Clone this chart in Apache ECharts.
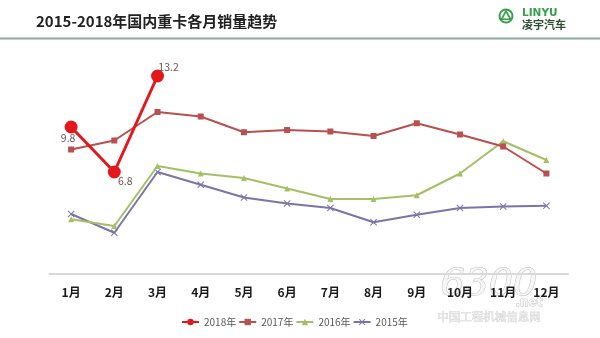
<!DOCTYPE html>
<html><head><meta charset="utf-8">
<script src="https://cdn.jsdelivr.net/npm/echarts@6/dist/echarts.min.js"></script>
<style>html,body{margin:0;padding:0;background:#fff}#c{width:600px;height:338px}</style>
</head><body><div id="c"></div>
<script>
const months = ['1月','2月','3月','4月','5月','6月','7月','8月','9月','10月','11月','12月'];
const seriesNames = ['2018年','2017年','2016年','2015年'];
const s2018 = [9.8, 6.8, 13.2];
const s2017 = [8.3, 8.9, 10.8, 10.5, 9.45, 9.6, 9.5, 9.2, 10.05, 9.3, 8.5, 6.7];
const s2016 = [3.65, 3.2, 7.2, 6.7, 6.4, 5.7, 5.0, 5.0, 5.25, 6.7, 8.85, 7.6];
const s2015 = [4.0, 2.75, 6.8, 5.95, 5.1, 4.7, 4.4, 3.45, 3.95, 4.4, 4.5, 4.55];

const font = '"Noto Sans CJK SC","Noto Sans",sans-serif';
const labelOffsets = [[-3, 11], [11, 9], [11, -9]];
const crossPath = 'path://M0,1L1,0L5,4L9,0L10,1L6,5L10,9L9,10L5,6L1,10L0,9L4,5Z';

const chart = echarts.init(document.getElementById('c'), null, {renderer: 'canvas'});
chart.setOption({
  backgroundColor: '#fff',
  animation: false,
  textStyle: {fontFamily: font},
  title: {
    text: '2015-2018年国内重卡各月销量趋势',
    left: 31, top: 9,
    textStyle: {fontSize: 15, fontWeight: 'bold', color: '#222', fontFamily: font}
  },
  graphic: [
    {type: 'line', z: 1, shape: {x1: 0, y1: 38.5, x2: 600, y2: 38.5}, style: {stroke: '#8fa8a0', lineWidth: 2}},
    {type: 'circle', z: 1, shape: {cx: 506, cy: 16, r: 6.5}, style: {fill: 'none', stroke: '#35a04a', lineWidth: 2}},
    {type: 'polygon', z: 1, shape: {points: [[506, 11], [510.5, 19.3], [501.5, 19.3]]}, style: {fill: 'none', stroke: '#35a04a', lineWidth: 1.6}},
    {type: 'text', z: 1, left: 522, top: 8, style: {text: 'LINYU', fill: '#35a04a', font: 'bold 10.5px "DejaVu Sans",sans-serif'}},
    {type: 'text', z: 1, left: 522, top: 19, style: {text: '凌宇汽车', fill: '#2c4f33', font: 'bold 11px "Noto Sans CJK SC",sans-serif'}},
    {type: 'text', z: 0, left: 440, top: 266, style: {text: '6300', fill: '#f6f6f6', stroke: '#bdbdbd', lineWidth: 1, font: 'italic 38px "DejaVu Serif",serif'}},
    {type: 'text', z: 0, left: 515, top: 296, style: {text: '.net', fill: '#f6f6f6', stroke: '#bdbdbd', lineWidth: 0.8, font: 'bold 12px "DejaVu Sans",sans-serif'}},
    {type: 'text', z: 0, left: 437, top: 311, style: {text: '中国工程机械信息网', fill: '#e9e9e9', stroke: '#c8c8c8', lineWidth: 0.5, font: '11.5px "Noto Sans CJK SC",sans-serif'}}
  ],
  legend: {
    data: seriesNames,
    left: 181, top: 317, padding: 0,
    itemWidth: 17, itemHeight: 8, itemGap: 2,
    textStyle: {fontSize: 10, color: '#595959', fontFamily: font}
  },
  grid: {left: 49.5, right: 32, top: 64, bottom: 64, containLabel: false},
  xAxis: {
    type: 'category',
    data: months,
    boundaryGap: true,
    axisLine: {lineStyle: {color: '#d9d9d9', width: 2}},
    axisTick: {show: false},
    axisLabel: {fontSize: 12, fontWeight: 'bold', color: '#1a1a1a', margin: 12, fontFamily: font}
  },
  yAxis: {
    type: 'value', min: 0, max: 14,
    show: false,
    splitLine: {show: false}
  },
  series: [
    {
      name: '2018年', type: 'line', z: 5,
      data: s2018.map((v, i) => ({value: v, label: {offset: labelOffsets[i]}})),
      symbol: 'circle', symbolSize: 13,
      lineStyle: {color: '#e3171c', width: 3},
      itemStyle: {color: '#e3171c'},
      label: {show: true, position: 'inside', color: '#6e5252', fontSize: 10.5, fontFamily: font}
    },
    {
      name: '2017年', type: 'line', z: 4,
      data: s2017,
      symbol: 'rect', symbolSize: 6,
      lineStyle: {color: '#b8504f', width: 2},
      itemStyle: {color: '#b8504f'}
    },
    {
      name: '2016年', type: 'line', z: 3,
      data: s2016,
      symbol: 'triangle', symbolSize: 6,
      lineStyle: {color: '#a2c064', width: 2},
      itemStyle: {color: '#a2c064'}
    },
    {
      name: '2015年', type: 'line', z: 2,
      data: s2015,
      symbol: crossPath, symbolSize: 7,
      lineStyle: {color: '#7b74a8', width: 2},
      itemStyle: {color: '#7b74a8'}
    }
  ]
});
</script></body></html>
